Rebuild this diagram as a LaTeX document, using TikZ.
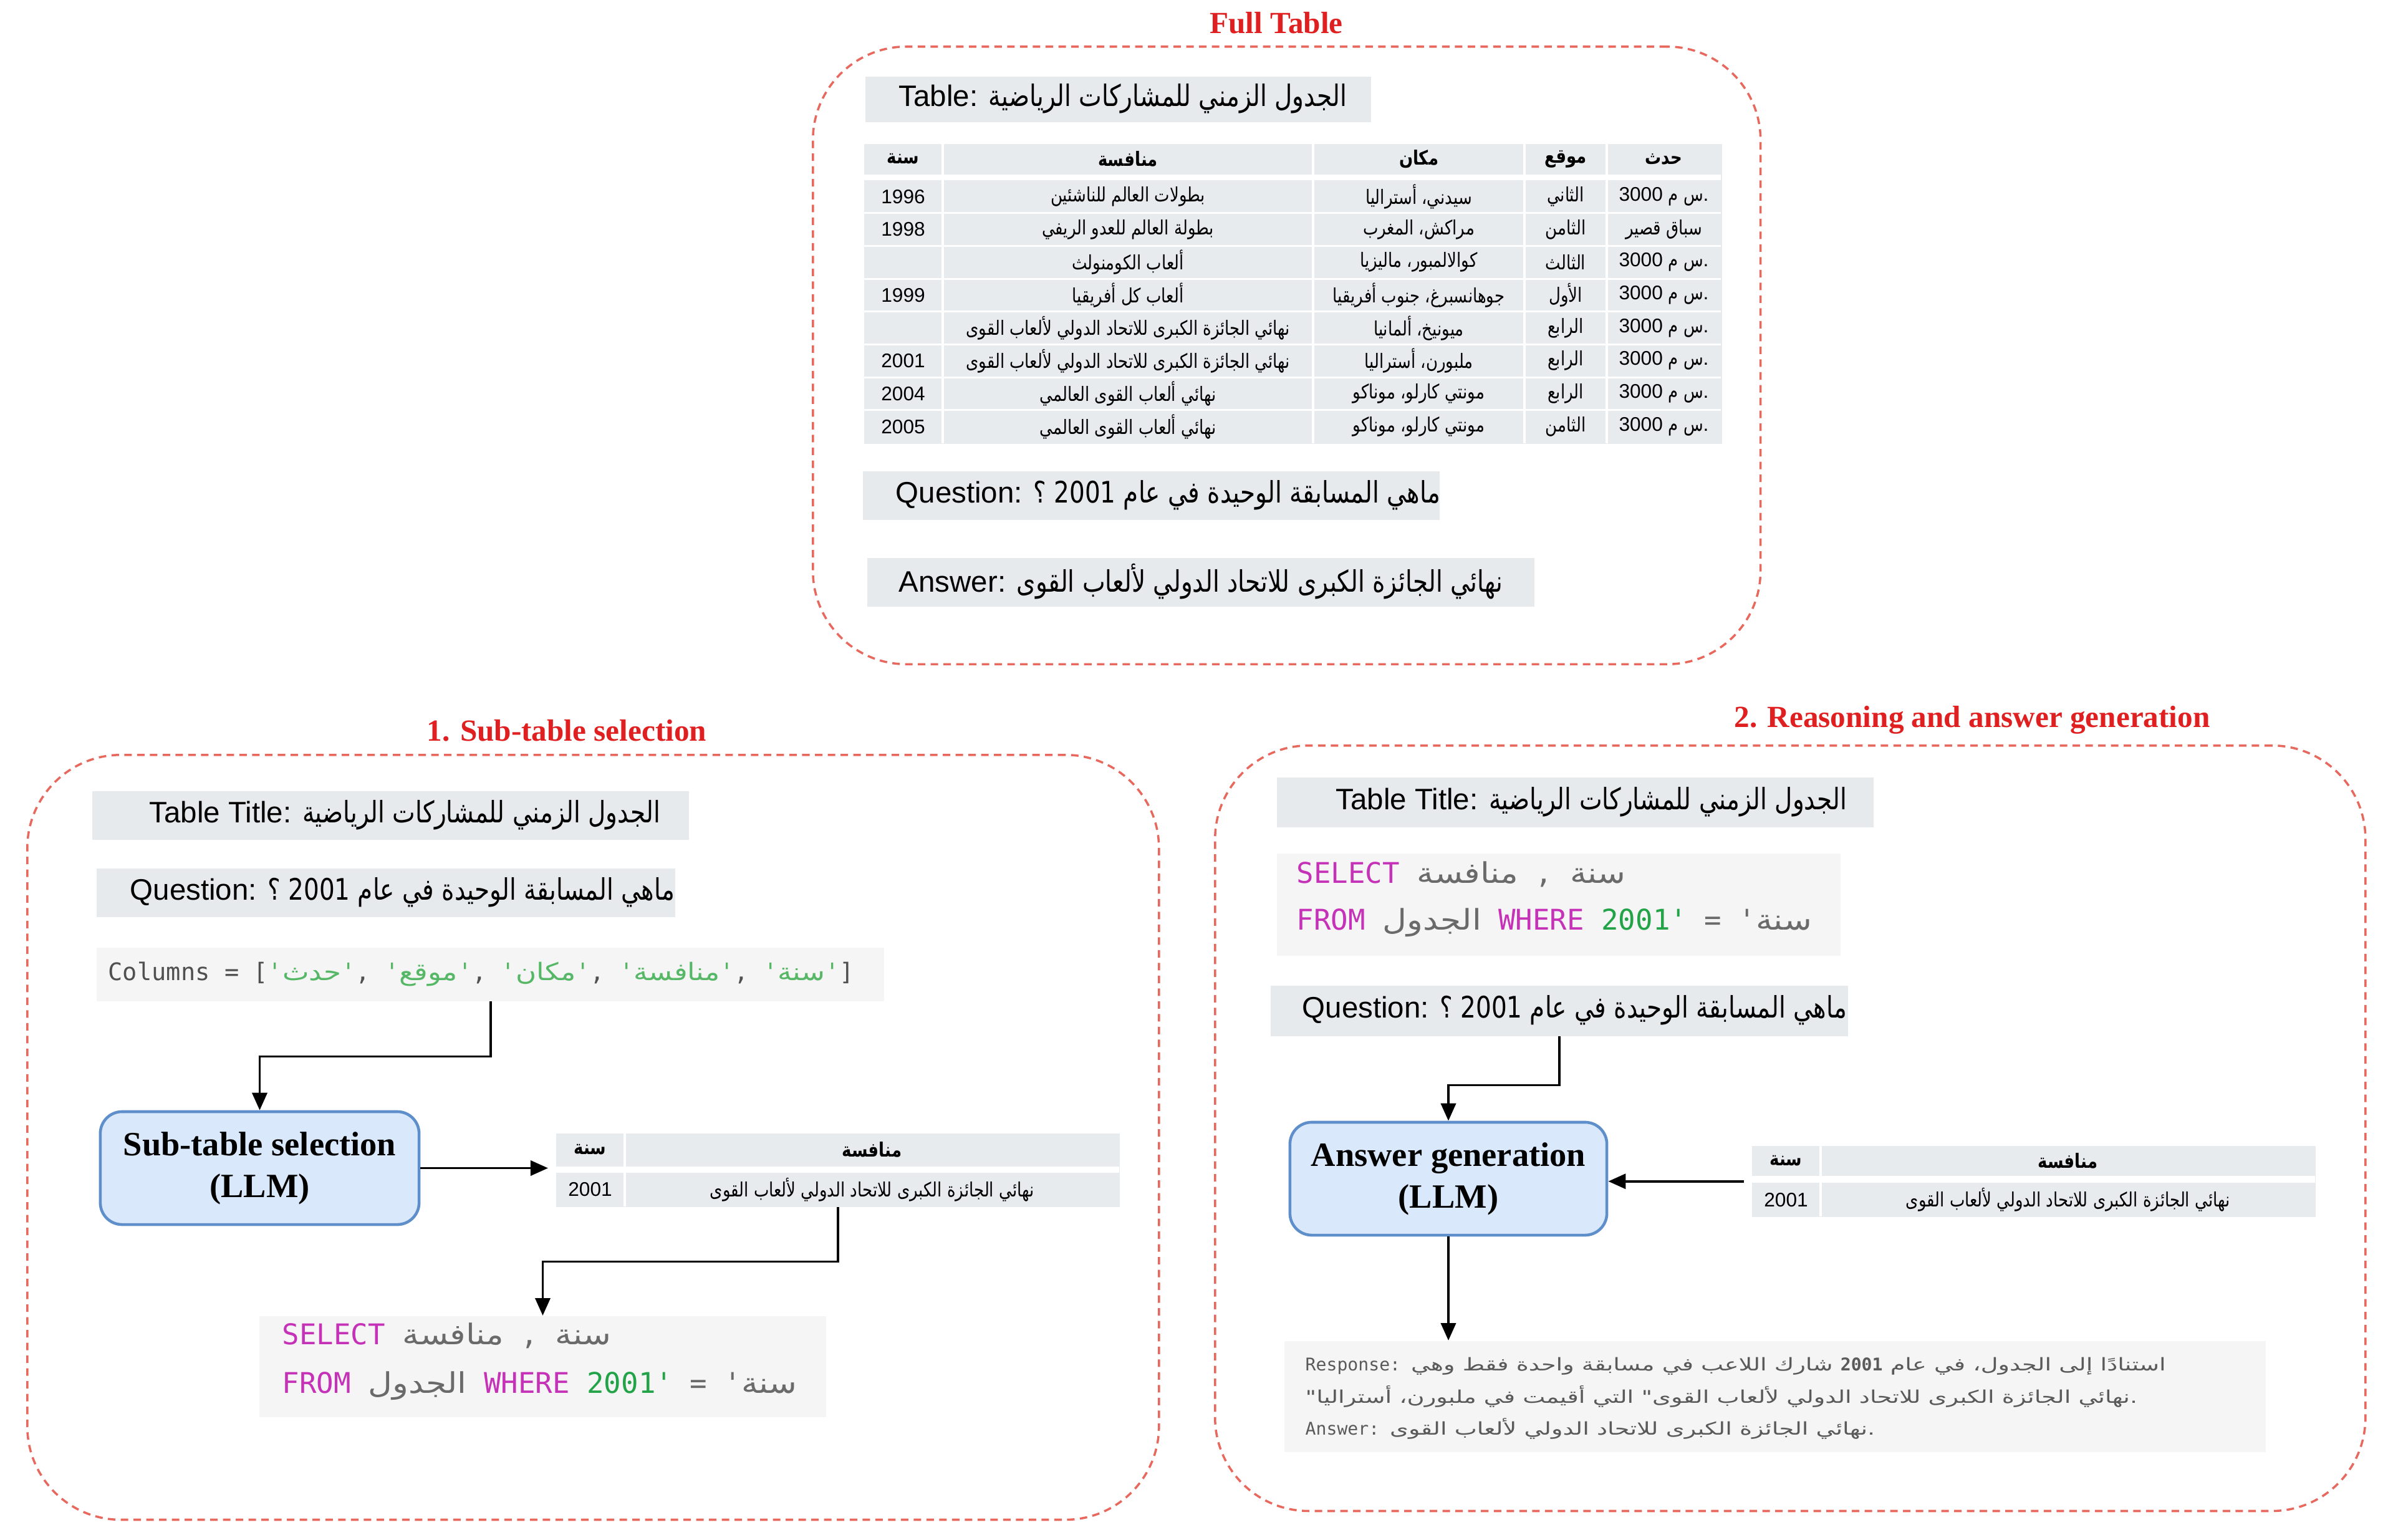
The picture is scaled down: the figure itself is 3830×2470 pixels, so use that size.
\documentclass[tikz,border=0pt]{standalone}
\usepackage{fontspec}
\setmainfont{Liberation Sans}
\setmonofont{DejaVu Sans Mono}
\newfontfamily\arabicfont[Script=Arabic,FakeStretch=0.82]{DejaVu Sans}
\newfontfamily\arabiccode[Script=Arabic,FakeStretch=1.17]{DejaVu Sans}
\newfontfamily\arabicresp[Script=Arabic,FakeStretch=1.36]{DejaVu Sans}
\newfontfamily\titlefont{Liberation Serif}
\TeXXeTstate=1
\usetikzlibrary{arrows.meta}
\definecolor{titlered}{HTML}{E02020}
\definecolor{dashred}{HTML}{E8685E}
\definecolor{barfill}{HTML}{E6EAEC}
\definecolor{cellfill}{HTML}{E8EBED}
\definecolor{codefill}{HTML}{F5F5F5}
\definecolor{llmfill}{HTML}{DAE8FC}
\definecolor{llmblue}{HTML}{5E8FCB}
\definecolor{kw}{HTML}{C532B8}
\definecolor{strgreen}{HTML}{23A347}
\definecolor{argray}{HTML}{6A6A6A}
\definecolor{codegray}{HTML}{505050}
\definecolor{colgreen}{HTML}{56B866}
\definecolor{respgray}{HTML}{5A5A5A}
\newcommand\arR[1]{{\arabicfont #1}}
\newcommand\fs[2]{\fontsize{#1}{#2}\selectfont}
\newcommand\ev{3000 {\arabicfont\beginR س م\endR}.}
\newcommand\cw[1]{{\color{colgreen}'{\arabiccode #1}'}}
\newcommand\trow[7]{%
 \node[cell] (#1a) at (1448.5,#2) {#3};
 \node[cell] (#1b) at (1809,#2) {\arR{#4}};
 \node[cell] (#1c) at (2275.5,#2) {\arR{#5}};
 \node[cell] (#1d) at (2511,#2) {\arR{#6}};
 \node[cell] (#1e) at (2668.5,#2) {#7};}
\begin{document}
\begin{tikzpicture}[x=0.01cm,y=-0.01cm,
  title/.style={text=titlered,font=\titlefont\bfseries\fs{14}{17},inner sep=0},
  frame/.style={draw=dashred,line width=1pt,dash pattern=on 0.12cm off 0.085cm,rounded corners=1.5cm,anchor=north west,inner sep=0},
  bar/.style={fill=barfill,anchor=north west,inner sep=0},
  codebox/.style={fill=codefill,anchor=north west,inner sep=0},
  tablebg/.style={fill=cellfill,anchor=north west,inner sep=0},
  lbl/.style={anchor=west,inner sep=0,font=\fs{13.5}{16}},
  code/.style={anchor=west,inner sep=0,font=\ttfamily\fs{13}{16}},
  cell/.style={inner sep=0,font=\fs{9}{11}},
  hcell/.style={inner sep=0,font=\arabicfont\bfseries\fs{9}{11}},
  llm/.style={draw=llmblue,fill=llmfill,line width=1.3pt,rounded corners=0.35cm,align=center,inner sep=0,font=\titlefont\bfseries\fs{15.5}{19}},
  arr/.style={-{Triangle[length=0.28cm,width=0.24cm]},line width=1.1pt},
  sep/.style={white,line width=0.9pt}
]
\useasboundingbox (0,0) rectangle (3830,2470);

% ---------------- Full table ----------------
\node[title] (t0) at (2047,37) {Full Table};
\node[frame,minimum width=15.19cm,minimum height=9.9cm] (f0) at (1302,73) {};
\node[bar,minimum width=8.11cm,minimum height=0.73cm] (tb0) at (1387,122) {};
\node[lbl] (tb0t) at (1441,158.5) {Table: \arR{\beginR الجدول الزمني للمشاركات الرياضية\endR}};

\node[tablebg,minimum width=13.75cm,minimum height=4.806cm] (tab) at (1385,230) {};
\fill[white] (1385,280) rectangle (2760,289);
\foreach \yy in {341.7,394.4,447.1,499.8,552.5,605.2,657.9} \draw[sep] (1385,\yy) -- (2760,\yy);
\foreach \xx in {1512,2106,2445,2577} \draw[sep] (\xx,230) -- (\xx,710.6);
\node[hcell] (h1) at (1448.5,255) {سنة};
\node[hcell] (h2) at (1809,255) {منافسة};
\node[hcell] (h3) at (2275.5,255) {مكان};
\node[hcell] (h4) at (2511,255) {موقع};
\node[hcell] (h5) at (2668.5,255) {حدث};
\trow{ra}{315.3}{1996}{\beginR بطولات العالم للناشئين\endR}{\beginR سيدني، أستراليا\endR}{الثاني}{\ev}
\trow{rb}{368}{1998}{\beginR بطولة العالم للعدو الريفي\endR}{\beginR مراكش، المغرب\endR}{الثامن}{\arR{\beginR سباق قصير\endR}}
\trow{rc}{420.7}{}{\beginR ألعاب الكومنولث\endR}{\beginR كوالالمبور، ماليزيا\endR}{الثالث}{\ev}
\trow{rd}{473.4}{1999}{\beginR ألعاب كل أفريقيا\endR}{\beginR جوهانسبرغ، جنوب أفريقيا\endR}{الأول}{\ev}
\trow{re}{526.1}{}{\beginR نهائي الجائزة الكبرى للاتحاد الدولي لألعاب القوى\endR}{\beginR ميونيخ، ألمانيا\endR}{الرابع}{\ev}
\trow{rf}{578.8}{2001}{\beginR نهائي الجائزة الكبرى للاتحاد الدولي لألعاب القوى\endR}{\beginR ملبورن، أستراليا\endR}{الرابع}{\ev}
\trow{rg}{631.5}{2004}{\beginR نهائي ألعاب القوى العالمي\endR}{\beginR مونتي كارلو، موناكو\endR}{الرابع}{\ev}
\trow{rh}{684.2}{2005}{\beginR نهائي ألعاب القوى العالمي\endR}{\beginR مونتي كارلو، موناكو\endR}{الثامن}{\ev}

\node[bar,minimum width=9.25cm,minimum height=0.78cm] (qb0) at (1383,755) {};
\node[lbl] (qb0t) at (1436,794) {Question: \arR{\beginR ماهي المسابقة الوحيدة في عام \beginL 2001\endL{} ؟\endR}};
\node[bar,minimum width=10.7cm,minimum height=0.78cm] (ab0) at (1390,894) {};
\node[lbl] (ab0t) at (1441,933) {Answer: \arR{\beginR نهائي الجائزة الكبرى للاتحاد الدولي لألعاب القوى\endR}};

% ---------------- 1. Sub-table selection ----------------
\node[title] (t1) at (909,1172) {1. Sub-table selection};
\node[frame,minimum width=18.14cm,minimum height=12.26cm] (f1) at (42,1209) {};
\node[bar,minimum width=9.57cm,minimum height=0.78cm] (tb1) at (147,1268) {};
\node[lbl] (tb1t) at (239,1307) {Table Title: \arR{\beginR الجدول الزمني للمشاركات الرياضية\endR}};
\node[bar,minimum width=9.28cm,minimum height=0.78cm] (qb1) at (154,1392) {};
\node[lbl] (qb1t) at (208,1431) {Question: \arR{\beginR ماهي المسابقة الوحيدة في عام \beginL 2001\endL{} ؟\endR}};
\node[codebox,minimum width=12.63cm,minimum height=0.86cm] (cols) at (154,1519) {};
\node[code,font=\ttfamily\fs{11}{13}] (colst) at (173,1562) {{\color{codegray}Columns = [}\cw{حدث}{\color{codegray}, }\cw{موقع}{\color{codegray}, }\cw{مكان}{\color{codegray}, }\cw{منافسة}{\color{codegray}, }\cw{سنة}{\color{codegray}]}};

\node[llm,minimum width=5.11cm,minimum height=1.81cm] (llm1) at (416.5,1873.5) {Sub-table selection\\(LLM)};

\node[tablebg,minimum width=9.04cm,minimum height=1.18cm] (st1) at (891,1817) {};
\fill[white] (891,1871) rectangle (1795,1881);
\draw[sep] (1002,1817) -- (1002,1935);
\node[hcell] (st1h1) at (946.5,1844) {سنة};
\node[hcell] (st1h2) at (1398.5,1844) {منافسة};
\node[cell] (st1r1) at (946.5,1908) {2001};
\node[cell] (st1r2) at (1398.5,1908) {\arR{\beginR نهائي الجائزة الكبرى للاتحاد الدولي لألعاب القوى\endR}};

\node[codebox,minimum width=9.09cm,minimum height=1.62cm] (sql1) at (415,2110) {};
\node[code] (sql1a) at (452,2142) {{\color{kw}SELECT} {\color{argray}{\arabiccode منافسة} , {\arabiccode سنة}}};
\node[code] (sql1b) at (452,2223) {{\color{kw}FROM} {\color{argray}\arabiccode الجدول} {\color{kw}WHERE} {\color{strgreen}2001'} {\color{argray}= '{\arabiccode سنة}}};

\draw[arr] (cols.south) -- ++(0,88) -| (llm1.north);
\draw[arr,shorten >=0.12cm] (llm1.east) -- (llm1.east -| st1.west);
\draw[arr] (st1.south) -- ++(0,87) -| (sql1.north);

% ---------------- 2. Reasoning and answer generation ----------------
\node[title] (t2) at (3163,1155) {2. Reasoning and answer generation};
\node[frame,minimum width=18.44cm,minimum height=12.27cm] (f2) at (1947,1194) {};
\node[bar,minimum width=9.57cm,minimum height=0.8cm] (tb2) at (2047,1246) {};
\node[lbl] (tb2t) at (2142,1286) {Table Title: \arR{\beginR الجدول الزمني للمشاركات الرياضية\endR}};
\node[codebox,minimum width=9.04cm,minimum height=1.64cm] (sql2) at (2047,1368) {};
\node[code] (sql2a) at (2079,1402) {{\color{kw}SELECT} {\color{argray}{\arabiccode منافسة} , {\arabiccode سنة}}};
\node[code] (sql2b) at (2079,1480) {{\color{kw}FROM} {\color{argray}\arabiccode الجدول} {\color{kw}WHERE} {\color{strgreen}2001'} {\color{argray}= '{\arabiccode سنة}}};
\node[bar,minimum width=9.26cm,minimum height=0.81cm] (qb2) at (2037,1580) {};
\node[lbl] (qb2t) at (2088,1620) {Question: \arR{\beginR ماهي المسابقة الوحيدة في عام \beginL 2001\endL{} ؟\endR}};

\node[llm,minimum width=5.08cm,minimum height=1.81cm] (llm2) at (2323,1890.5) {Answer generation\\(LLM)};

\node[tablebg,minimum width=9.04cm,minimum height=1.14cm] (st2) at (2809,1837) {};
\fill[white] (2809,1886) rectangle (3713,1897);
\draw[sep] (2920,1837) -- (2920,1951);
\node[hcell] (st2h1) at (2864.5,1861.5) {سنة};
\node[hcell] (st2h2) at (3316.5,1861.5) {منافسة};
\node[cell] (st2r1) at (2864.5,1924.5) {2001};
\node[cell] (st2r2) at (3316.5,1924.5) {\arR{\beginR نهائي الجائزة الكبرى للاتحاد الدولي لألعاب القوى\endR}};

\node[codebox,minimum width=15.73cm,minimum height=1.78cm] (resp) at (2059,2150) {};
\node[code,font=\ttfamily\fs{8}{10},text=respgray] (resp1) at (2093,2191) {Response: {\arabicresp\beginR استنادًا إلى الجدول، في عام \beginL{\ttfamily\bfseries 2001}\endL{} شارك اللاعب في مسابقة واحدة فقط وهي\endR}};
\node[code,font=\ttfamily\fs{8}{10},text=respgray] (resp2) at (2093,2240) {{\arabicresp\beginR .نهائي الجائزة الكبرى للاتحاد الدولي لألعاب القوى" التي أقيمت في ملبورن، أستراليا"\endR}};
\node[code,font=\ttfamily\fs{8}{10},text=respgray] (resp3) at (2093,2291) {Answer: {\arabicresp\beginR .نهائي الجائزة الكبرى للاتحاد الدولي لألعاب القوى\endR}};

\draw[arr] (qb2.south) -- ++(0,78) -| (llm2.north);
\draw[arr,shorten <=0.12cm] (st2.west) -- (st2.west -| llm2.east);
\draw[arr] (llm2.south) -- (llm2.south |- resp.north);
\end{tikzpicture}
\end{document}
